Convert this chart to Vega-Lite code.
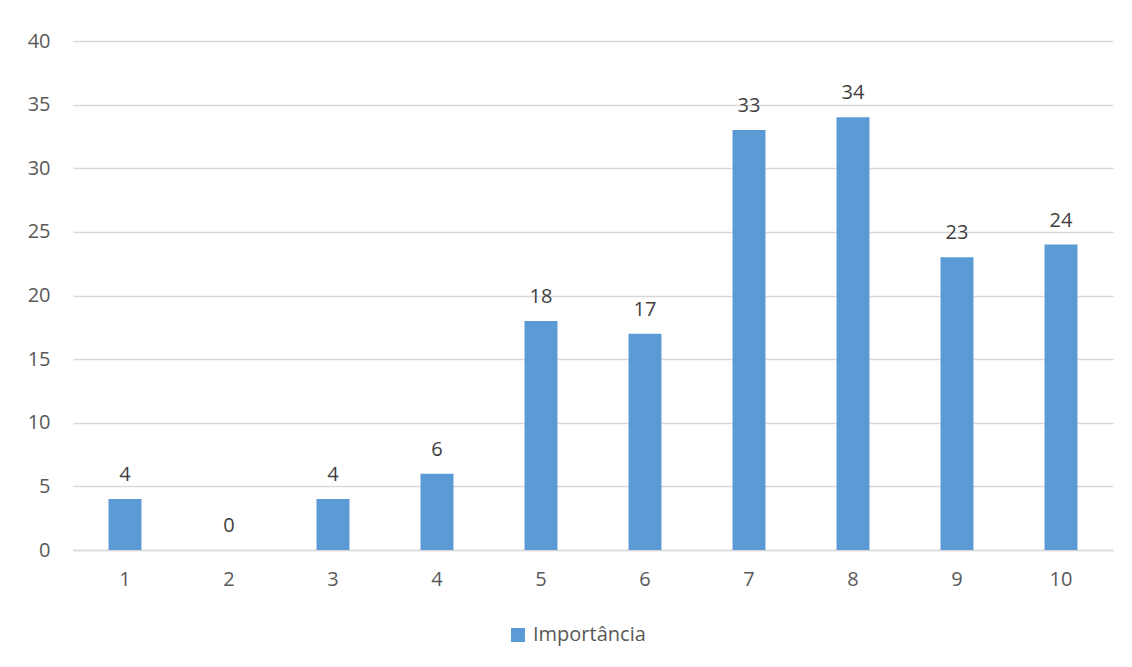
{
  "$schema": "https://vega.github.io/schema/vega-lite/v6.json",
  "width": 1040,
  "height": 509,
  "autosize": {"type": "none"},
  "padding": {"left": 73, "top": 41, "right": 19, "bottom": 117},
  "background": "white",
  "config": {
    "view": {"stroke": null},
    "font": "Open Sans"
  },
  "data": {
    "values": [
      {"nota": "1", "valor": 4, "serie": "Importância"},
      {"nota": "2", "valor": 0, "serie": "Importância"},
      {"nota": "3", "valor": 4, "serie": "Importância"},
      {"nota": "4", "valor": 6, "serie": "Importância"},
      {"nota": "5", "valor": 18, "serie": "Importância"},
      {"nota": "6", "valor": 17, "serie": "Importância"},
      {"nota": "7", "valor": 33, "serie": "Importância"},
      {"nota": "8", "valor": 34, "serie": "Importância"},
      {"nota": "9", "valor": 23, "serie": "Importância"},
      {"nota": "10", "valor": 24, "serie": "Importância"}
    ]
  },
  "encoding": {
    "x": {
      "field": "nota",
      "type": "ordinal",
      "sort": null,
      "scale": {"paddingInner": 0.683, "paddingOuter": 0.3415},
      "axis": {
        "title": null,
        "labelAngle": 0,
        "ticks": false,
        "domain": true,
        "domainColor": "#D9D9D9",
        "domainWidth": 1.5,
        "labelPadding": 19,
        "labelFont": "Open Sans",
        "labelFontSize": 20,
        "labelColor": "#595959"
      }
    },
    "y": {
      "field": "valor",
      "type": "quantitative",
      "scale": {"domain": [0, 40], "nice": false},
      "axis": {
        "title": null,
        "values": [0, 5, 10, 15, 20, 25, 30, 35, 40],
        "ticks": false,
        "domain": false,
        "gridColor": "#D9D9D9",
        "gridWidth": 1.5,
        "labelPadding": 23,
        "labelFont": "Open Sans",
        "labelFontSize": 20,
        "labelColor": "#595959"
      }
    }
  },
  "layer": [
    {
      "mark": {"type": "bar"},
      "encoding": {
        "color": {
          "field": "serie",
          "type": "nominal",
          "scale": {"range": ["#5B9BD5"]},
          "legend": {
            "title": null,
            "orient": "none",
            "legendX": 435,
            "legendY": 584,
            "symbolType": "square",
            "symbolSize": 196,
            "symbolStrokeWidth": 0,
            "labelFontSize": 20,
            "labelColor": "#595959",
            "labelFont": "Open Sans",
            "labelOffset": 5
          }
        }
      }
    },
    {
      "mark": {"type": "text", "baseline": "alphabetic", "dy": -18, "fontSize": 20, "color": "#404040", "font": "Open Sans"},
      "encoding": {"text": {"field": "valor", "type": "quantitative"}}
    }
  ]
}
